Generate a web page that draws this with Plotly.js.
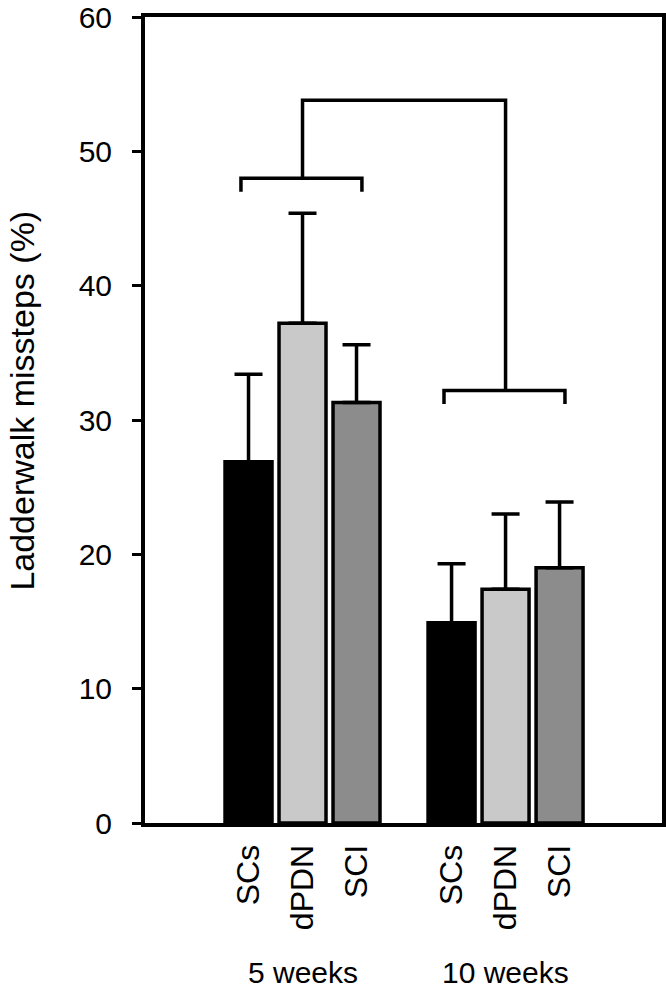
<!DOCTYPE html>
<html>
<head>
<meta charset="utf-8">
<script src="https://cdn.plot.ly/plotly-3.0.1.min.js"></script>
<style>
  html, body { margin: 0; padding: 0; background: #fff; }
  #grafica { width: 666px; height: 994px; }
</style>
</head>
<body>
<div id="grafica"></div>
<script>
// Datos
const grupos = ['5 weeks', '10 weeks'];
const series = ['SCs', 'dPDN', 'SCI'];
const colores = ['#000000', '#c9c9c9', '#8c8c8c'];
const medias5 = [26.9, 37.2, 31.3];
const medias10 = [14.9, 17.4, 19.0];
const errores5 = [6.5, 8.2, 4.3];
const errores10 = [4.4, 5.6, 4.9];
// niveles de los corchetes de comparacion
const nivelGrupo = [48.0, 32.2];
const nivelSuperior = 53.8;

const separacionGrupos = 3.76;
function posicion(g, s) {
    return g * separacionGrupos + s;
}

const medias = [medias5, medias10];
const errores = [errores5, errores10];

const trazas = [];

// Barras, una traza por serie
series.forEach((nombre, s) => {
    trazas.push({
        type: 'bar',
        name: nombre,
        x: grupos.map((_, g) => posicion(g, s)),
        y: grupos.map((_, g) => medias[g][s]),
        width: 0.87,
        marker: { color: colores[s], line: { color: '#000', width: 3.5 } },
        error_y: {
            type: 'data',
            symmetric: false,
            array: grupos.map((_, g) => errores[g][s]),
            arrayminus: grupos.map(() => 0),
            color: '#000',
            thickness: 3.5,
            width: 14
        },
        hoverinfo: 'y'
    });
});

// Corchetes de cada grupo
const linea = { color: '#000', width: 3.5 };
grupos.forEach((_, g) => {
    const x0 = posicion(g, 0) - 0.14;
    const x1 = posicion(g, series.length - 1) + 0.1;
    const y = nivelGrupo[g];
    trazas.push({
        type: 'scatter', mode: 'lines', line: linea, hoverinfo: 'skip',
        x: [x0, x0, x1, x1],
        y: [y - 1, y, y, y - 1]
    });
});

// Corchete superior que une los grupos
trazas.push({
    type: 'scatter', mode: 'lines', line: linea, hoverinfo: 'skip',
    x: [posicion(0, 1), posicion(0, 1), posicion(1, 1), posicion(1, 1)],
    y: [nivelGrupo[0], nivelSuperior, nivelSuperior, nivelGrupo[1]]
});

const tickPos = [];
const tickTxt = [];
grupos.forEach((_, g) => {
    series.forEach((nombre, s) => {
        tickPos.push(posicion(g, s));
        tickTxt.push(nombre);
    });
});

const fuente = 'Liberation Sans, Arial, sans-serif';

const anotaciones = grupos.map((nombre, g) => ({
    text: nombre,
    xref: 'x', yref: 'paper',
    x: posicion(g, 1), y: -0.185,
    xanchor: 'center', yanchor: 'middle',
    showarrow: false,
    font: { family: fuente, size: 30, color: '#000' }
}));

anotaciones.push({
    text: 'Ladderwalk missteps (%)',
    xref: 'paper', yref: 'paper',
    x: -0.238, y: 0.524,
    xanchor: 'center', yanchor: 'middle',
    textangle: -90,
    showarrow: false,
    font: { family: 'Liberation Sans Narrow, Arial Narrow, ' + fuente, size: 34, color: '#000' }
});

const layout = {
    width: 666,
    height: 994,
    margin: { l: 145, r: 4, t: 17, b: 171 },
    paper_bgcolor: '#fff',
    plot_bgcolor: '#fff',
    showlegend: false,
    barmode: 'overlay',
    font: { family: fuente, color: '#000' },
    xaxis: {
        range: [-1.917, 7.657],
        tickmode: 'array',
        tickvals: tickPos,
        ticktext: tickTxt,
        tickangle: -90,
        ticks: '',
        ticklabelstandoff: 5,
        tickfont: { family: fuente, size: 32, color: '#000' },
        showgrid: false,
        zeroline: false,
        showline: true,
        linecolor: '#000',
        linewidth: 4,
        mirror: true
    },
    yaxis: {
        range: [0, 60],
        tickvals: [0, 10, 20, 30, 40, 50, 60],
        ticks: 'outside',
        ticklen: 9,
        tickwidth: 3,
        tickcolor: '#000',
        ticklabelstandoff: 14,
        ticklabeloverflow: 'allow',
        tickfont: { family: fuente, size: 30, color: '#000' },
        showgrid: false,
        zeroline: false,
        showline: true,
        linecolor: '#000',
        linewidth: 4,
        mirror: true
    },
    annotations: anotaciones
};

Plotly.newPlot('grafica', trazas, layout, { staticPlot: true });
</script>
</body>
</html>
